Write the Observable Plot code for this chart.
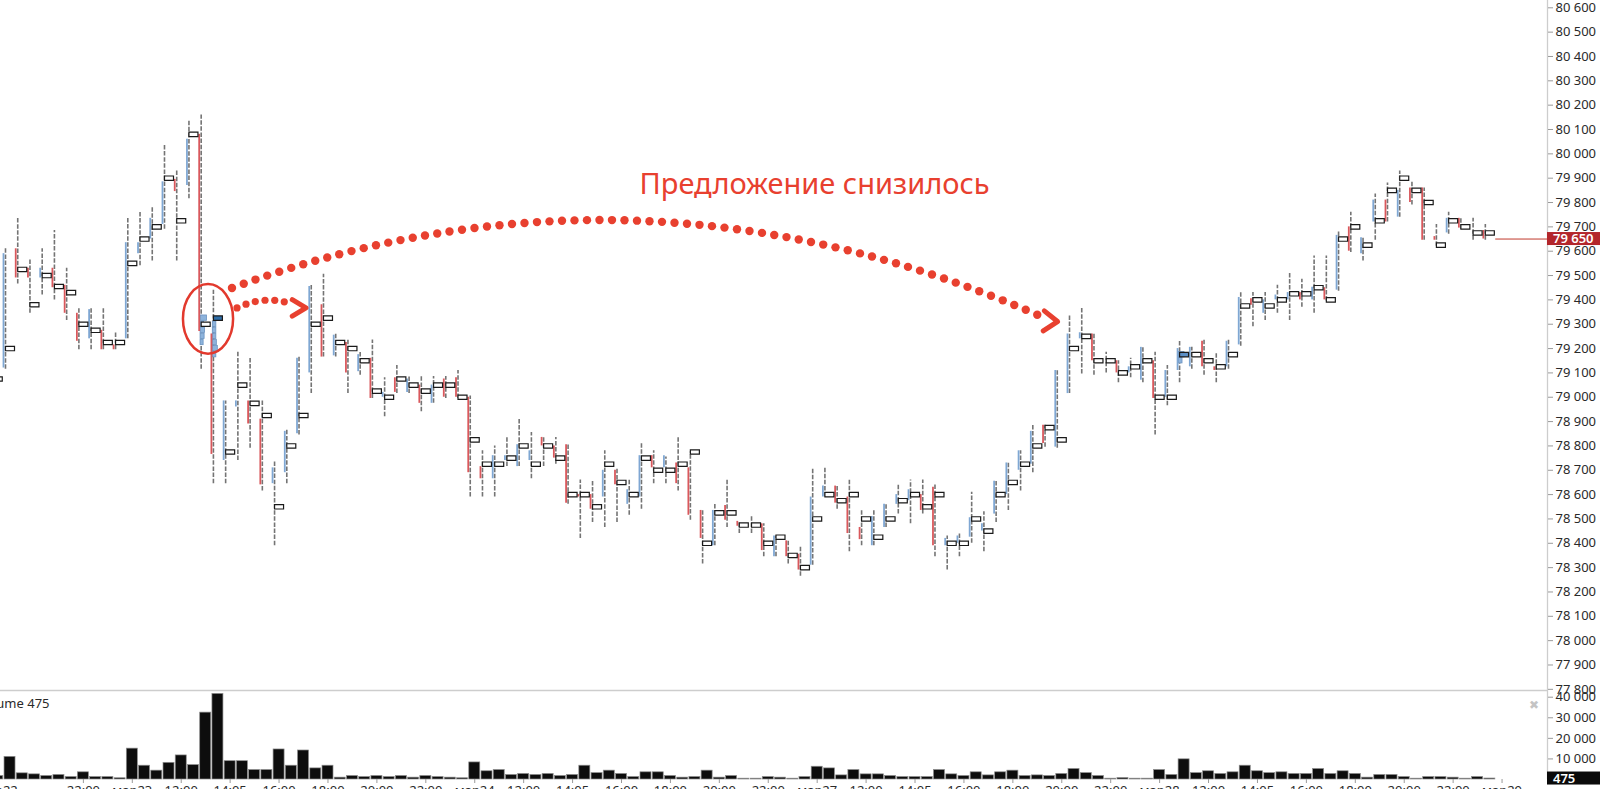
<!DOCTYPE html>
<html><head><meta charset="utf-8">
<script src="https://cdn.jsdelivr.net/npm/d3@7"></script>
<script src="https://cdn.jsdelivr.net/npm/@observablehq/plot@0.6"></script>
<style>
html,body{margin:0;padding:0;background:#fff;overflow:hidden;}
#chart{position:relative;width:1600px;height:789px;background:#fff;}
#chart svg{display:block;overflow:visible;}
</style></head><body><div id="chart"></div>
<script>
// ---------- DATA (30-minute bars, index = bar number) ----------
const barIndex = d3.range(-1, 122);
const lows = [79010,79115,79465,79345,79420,79400,79315,79195,79195,79195,79195,79240,79540,79560,79690,79560,79815,79115,78645,78645,78740,78790,78615,78390,78645,78845,79015,79165,79165,79015,79090,78995,78920,79015,79015,78940,78975,78995,78995,78590,78590,78590,78715,78715,78665,78715,78725,78560,78420,78485,78465,78485,78515,78540,78645,78645,78615,78495,78315,78390,78465,78440,78440,78345,78345,78315,78265,78310,78590,78540,78365,78390,78390,78465,78520,78480,78520,78345,78290,78345,78400,78365,78485,78535,78615,78690,78795,78790,79015,79095,79090,79100,79060,79080,79060,78845,78965,79060,79115,79090,79060,79115,79210,79290,79315,79345,79315,79370,79345,79395,79435,79595,79560,79645,79720,79740,79790,79645,79620,79670,79690,79645,79645];
const highs = [79140,79610,79735,79565,79610,79685,79530,79365,79365,79365,79265,79735,79760,79780,80035,79930,80135,80160,79440,78985,79185,79165,78985,78735,78870,79165,79460,79505,79260,79235,79185,79235,79080,79130,79085,79085,79085,79085,79110,79005,78780,78800,78835,78910,78855,78835,78835,78810,78660,78660,78780,78705,78660,78810,78780,78755,78835,78775,78535,78565,78660,78490,78510,78480,78430,78410,78385,78710,78710,78635,78660,78535,78535,78560,78640,78660,78660,78640,78430,78440,78610,78530,78660,78735,78780,78885,78885,79110,79335,79365,79260,79185,79150,79160,79205,79185,79130,79235,79205,79235,79180,79235,79435,79430,79430,79460,79510,79485,79580,79580,79685,79760,79660,79835,79880,79930,79890,79860,79710,79760,79735,79735,79710];
const opens = [79080,79120,79610,79530,79490,79530,79460,79345,79240,79275,79215,79240,79590,79650,79710,79895,79870,80080,79260,78740,78960,78985,78910,78645,78690,78850,79100,79380,79170,79225,79105,79160,79000,79080,79020,79050,78975,79075,79080,79000,78715,78665,78740,78715,78740,78835,78800,78805,78600,78600,78590,78700,78560,78590,78760,78710,78730,78710,78535,78390,78555,78490,78475,78480,78345,78410,78355,78310,78590,78635,78590,78465,78390,78465,78560,78575,78600,78630,78390,78400,78425,78450,78520,78600,78700,78725,78885,78795,79015,79240,79260,79150,79150,79100,79070,79150,79000,79110,79125,79230,79125,79125,79215,79405,79345,79400,79400,79430,79400,79450,79440,79700,79590,79720,79810,79740,79860,79860,79660,79675,79735,79680,79685];
const closes = [79070,79590,79490,79490,79530,79450,79345,79230,79360,79195,79195,79635,79635,79735,79885,79845,80060,79270,78765,78985,78985,78890,78640,78710,78860,79160,79455,79165,79255,79100,79175,78995,79020,79020,79075,78975,79050,79000,79000,78690,78665,78760,78760,78805,78780,78800,78750,78565,78590,78540,78700,78640,78620,78760,78710,78760,78645,78515,78420,78535,78495,78470,78475,78370,78430,78345,78290,78590,78635,78565,78440,78415,78510,78560,78600,78620,78535,78390,78420,78430,78505,78480,78655,78730,78780,78860,78810,79110,79260,79265,79150,79150,79100,79125,79205,78995,79110,79200,79205,79125,79110,79230,79410,79378,79400,79420,79430,79400,79452,79400,79665,79600,79655,79810,79720,79850,79800,79645,79645,79735,79695,79680,79650];
const pocs = [79075,79200,79525,79380,79500,79455,79430,79300,79275,79225,79225,79550,79650,79700,79900,79725,80080,79300,79325,78775,79050,78975,78925,78550,78800,78925,79300,79325,79225,79200,79150,79025,79000,79075,79050,79025,79050,79050,79000,78825,78725,78725,78750,78800,78725,78800,78750,78600,78600,78550,78725,78650,78600,78750,78700,78700,78725,78775,78400,78525,78525,78475,78475,78400,78425,78350,78300,78500,78600,78575,78600,78500,78425,78500,78575,78600,78550,78600,78400,78400,78500,78450,78600,78650,78725,78800,78875,78825,79200,79250,79150,79150,79100,79125,79150,79000,79000,79175,79175,79150,79125,79175,79375,79400,79375,79400,79425,79425,79450,79400,79650,79700,79625,79725,79850,79900,79850,79800,79625,79725,79700,79675,79675];
const volumes = [1700,11000,3000,2500,1700,2200,1200,3500,1200,1200,600,15000,6700,4300,8100,11700,7000,32500,41600,8900,8900,4600,4600,14600,6700,14100,5400,6700,900,1700,1200,1700,1200,1700,900,1700,1200,900,600,8300,4000,4600,2200,2700,2200,2700,1700,2200,6700,3100,4300,2700,1200,3500,3500,1700,900,1200,4300,900,1700,400,400,1200,900,400,1200,6200,5400,2000,4600,2500,2500,1700,1200,1200,1200,4600,2500,1700,3500,2000,3500,4300,1700,2000,1700,2700,5100,3100,1700,400,700,400,400,4600,2200,9800,3100,4000,2700,3500,6700,4000,3100,3500,2700,2700,5100,2700,4000,2700,900,2200,2200,1200,400,1200,1200,900,400,1200,475];
// bars whose point-of-control box is a high-volume (filled) level
const hiPocBars = [17, 96];
const hiPocShade = ["#2f6ea8", "#5b8fc6"];
// large profile cells: [bar, price, share of slot volume]
const cellBars   = [16, 16, 16, 16, 16, 17, 17, 17, 17, 17, 17, 96, 96];
const cellPrices = [79325, 79300, 79275, 79250, 79225, 79300, 79275, 79250, 79225, 79200, 79175, 79175, 79150];
const cellShares = [0.6, 0.3, 0.4, 0.35, 0.25, 0.3, 0.3, 0.3, 0.35, 0.45, 0.3, 0.5, 0.3];
// axes
const priceTicks = d3.range(77800, 80601, 100);
const volumeTicks = [10000, 20000, 30000, 40000];
const timeTickBars = [-1,6,10,14,18,22,26,30,34,38,42,46,50,54,58,62,66,70,74,78,82,86,90,94,98,102,106,110,114,118,122];
const timeTickLabels = ["мар22","22:00","мар23","12:00","14:05","16:00","18:00","20:00","22:00","мар24","12:00","14:05","16:00","18:00","20:00","22:00","мар27","12:00","14:05","16:00","18:00","20:00","22:00","мар28","12:00","14:05","16:00","18:00","20:00","22:00","мар29"];
const lastPrice = 79650;
const lastVolume = 475;
// annotation (in bar / price coordinates)
const noteText = "Предложение снизилось";
const notePos = [66.15, 79874];
const bigArc = [[18.56, 79447], [49.06, 79726], [84.63, 79332]];
const bigArrowTip = [86.06, 79309];
const smallArc = [[18.97, 79365], [21.67, 79397], [22.9, 79389]];
const smallArrowTip = [24.61, 79365];
const ringCenter = [16.6, 79320];
const ringRadii = [2.05, 143];

// ---------- LAYOUT ----------
const W = 1600, MR = 53, SLOT = 12.23, X0 = 5;
const xDomain = [-X0 / SLOT, -X0 / SLOT + (W - MR) / SLOT];
const BLUE = "#7fa7d3", RED = "#d9585c", NOTE = "#e8402f";
const fmt = d => d3.format(",")(d).replace(/,/g, " ");
const font = "'Noto Sans', 'Open Sans', sans-serif";

const bars = barIndex.map((k, i) => ({k, low: lows[i], high: highs[i], open: opens[i], close: closes[i], poc: pocs[i], vol: volumes[i]}));
const hiMap = new Map(hiPocBars.map((b, i) => [b, hiPocShade[i]]));
const cells = cellBars.map((b, i) => ({k: b, p: cellPrices[i], s: cellShares[i]}));
const tickLabel = new Map(timeTickBars.map((b, i) => [b, timeTickLabels[i]]));

const boxSymbol = {draw(ctx) { ctx.moveTo(-4.5, -2.2); ctx.lineTo(4.5, -2.2); ctx.lineTo(4.5, 2.2); ctx.lineTo(-4.5, 2.2); ctx.closePath(); }};

function tagMark(value, label, bg) {
  return (index, scales, values, dims) => {
    const yy = scales.y(value);
    const x0 = dims.width - dims.marginRight;
    const g = d3.create("svg:g");
    g.append("rect").attr("x", x0).attr("y", yy - 6.5).attr("width", dims.marginRight).attr("height", 13).attr("fill", bg);
    g.append("text").attr("x", x0 + 6).attr("y", yy).attr("dy", "0.36em").attr("fill", "white")
      .attr("text-anchor", "start").attr("font-size", 13).attr("font-weight", 600).attr("font-family", font).text(label);
    return g.node();
  };
}
function dottedArc(pts, r, spacing) {
  return (index, scales) => {
    const P = pts.map(([a, b]) => [scales.x(a), scales.y(b)]);
    const f = x => P.reduce((s, [xi, yi], i) => s + yi * P.reduce((m, [xj], j) => j === i ? m : m * (x - xj) / (xi - xj), 1), 0);
    const g = d3.create("svg:g").attr("fill", NOTE);
    let acc = spacing, prev = [P[0][0], f(P[0][0])];
    const x1 = P[P.length - 1][0];
    for (let x = P[0][0]; x <= x1; x += 0.25) {
      const cur = [x, f(x)];
      acc += Math.hypot(cur[0] - prev[0], cur[1] - prev[1]);
      prev = cur;
      if (acc >= spacing) { g.append("circle").attr("cx", cur[0]).attr("cy", cur[1]).attr("r", r); acc = 0; }
    }
    return g.node();
  };
}
function chevron(tip, angleDeg, half, len, width) {
  return (index, scales) => {
    const tx = scales.x(tip[0]), ty = scales.y(tip[1]);
    const a = angleDeg * Math.PI / 180, h = half * Math.PI / 180;
    const p1 = [tx - len * Math.cos(a - h), ty - len * Math.sin(a - h)];
    const p2 = [tx - len * Math.cos(a + h), ty - len * Math.sin(a + h)];
    return d3.create("svg:path").attr("d", `M${p1}L${tx},${ty}L${p2}`).attr("fill", "none")
      .attr("stroke", NOTE).attr("stroke-width", width).attr("stroke-linecap", "round").attr("stroke-linejoin", "round").node();
  };
}
function ring(index, scales) {
  const cx = scales.x(ringCenter[0]), cy = scales.y(ringCenter[1]);
  return d3.create("svg:ellipse").attr("cx", cx).attr("cy", cy)
    .attr("rx", Math.abs(scales.x(ringCenter[0] + ringRadii[0]) - cx))
    .attr("ry", Math.abs(scales.y(ringCenter[1] + ringRadii[1]) - cy))
    .attr("fill", "none").attr("stroke", "#e2392d").attr("stroke-width", 2.5).node();
}

const pricePlot = Plot.plot({
  width: W, height: 690, marginLeft: 0, marginRight: MR, marginTop: 0, marginBottom: 0,
  style: {fontFamily: font, fontSize: "13px", color: "#2a2a2a", background: "white", overflow: "visible"},
  x: {domain: xDomain, axis: null},
  y: {domain: [77795.2, 80630], axis: null},
  marks: [
    Plot.ruleX([xDomain[1]], {stroke: "#cdcdcd", strokeWidth: 1.3}),
    Plot.axisY({anchor: "right", ticks: priceTicks, tickFormat: fmt, tickSize: 5, tickPadding: 3, stroke: "#9a9a9a", fill: "#2a2a2a", label: null}),
    Plot.ruleX(bars, {x: "k", y1: "low", y2: "high", stroke: "#747474", strokeWidth: 1.6, strokeDasharray: "4.5,1.6"}),
    Plot.rect(cells, {x1: d => d.k - 0.05, x2: d => d.k + d.s * 0.8, y1: d => d.p - 11, y2: d => d.p + 11, fill: "#8db3dc", stroke: "#6b93c0", strokeWidth: 0.8}),
    Plot.ruleX(bars.filter(d => d.open !== d.close), {x: "k", y1: "open", y2: "close", dx: -2, stroke: d => d.close > d.open ? BLUE : RED, strokeWidth: 1.8}),
    Plot.dot(bars, {x: "k", y: "poc", symbol: boxSymbol, dx: 4.5, fill: d => hiMap.get(d.k) ?? "white", stroke: "#1a1a1a", strokeWidth: 1.2}),
    Plot.ruleY([lastPrice], {x1: bars[bars.length - 1].k + 0.85, x2: xDomain[1], stroke: "#c0392b", strokeWidth: 1}),
    tagMark(lastPrice, fmt(lastPrice), "#b3262b"),
    ring,
    dottedArc(bigArc, 4.2, 12.4),
    chevron(bigArrowTip, 3, 36, 17, 5),
    dottedArc(smallArc, 3.6, 9.6),
    chevron(smallArrowTip, 0, 31, 16, 5),
    Plot.text([noteText], {x: () => notePos[0], y: () => notePos[1], text: d => d, fill: NOTE, fontSize: 29, fontFamily: font})
  ]
});

const volumePlot = Plot.plot({
  width: W, height: 99, marginLeft: 0, marginRight: MR, marginTop: 0, marginBottom: 10,
  style: {fontFamily: font, fontSize: "13px", color: "#2a2a2a", background: "white", overflow: "visible"},
  x: {domain: xDomain, axis: null},
  y: {domain: [0, 43256], axis: null},
  marks: [
    Plot.ruleY([43256], {stroke: "#cdcdcd", strokeWidth: 1.5}),
    Plot.ruleX([xDomain[1]], {stroke: "#cdcdcd", strokeWidth: 1.3}),
    Plot.rectY(bars, {x1: d => d.k - 0.08, x2: d => d.k + 0.82, y: "vol", fill: "#0d0d0d", stroke: "#8c8c8c", strokeWidth: 0.7}),
    Plot.axisY({anchor: "right", ticks: volumeTicks, tickFormat: fmt, tickSize: 5, tickPadding: 3, stroke: "#9a9a9a", fill: "#2a2a2a", label: null}),
    Plot.axisX({anchor: "bottom", ticks: timeTickBars, dx: 4.5, tickFormat: d => tickLabel.get(d), tickSize: 4, tickPadding: 2, stroke: "#9a9a9a", fill: "#2a2a2a", label: null}),
    tagMark(lastVolume, String(lastVolume), "#0a0a0a"),
    Plot.text(["Volume " + lastVolume], {frameAnchor: "top-left", textAnchor: "end", dx: 49, dy: 8, fill: "#2a2a2a"}),
    Plot.text(["✖"], {frameAnchor: "top-right", dx: -9, dy: 10, fontSize: 12, fill: "#c4c4c4"})
  ]
});

const root = document.getElementById("chart");
root.append(pricePlot, volumePlot);
</script></body></html>
